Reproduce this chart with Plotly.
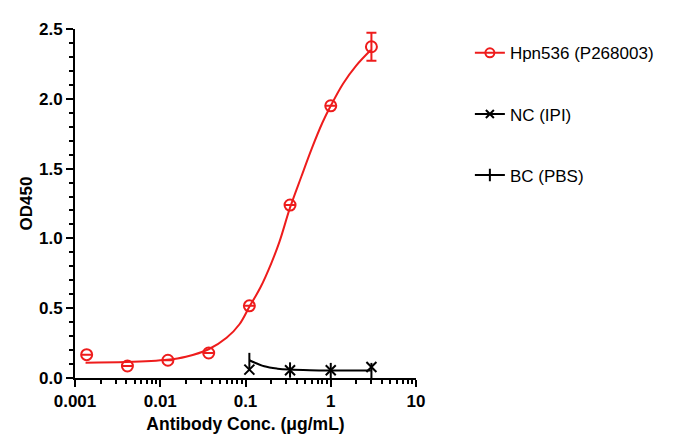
import plotly.graph_objects as go

# ===================== Data =====================
conc = [0.00137, 0.00412, 0.0123, 0.037, 0.111, 0.333, 1, 3]
hpn_od = [0.167, 0.086, 0.127, 0.179, 0.517, 1.239, 1.95, 2.373]
hpn_err = [0, 0, 0, 0, 0, 0, 0, 0.1]

# fitted curve of Hpn536
hpn_fit_x = [0.00133, 0.004, 0.012, 0.02, 0.037, 0.06, 0.085, 0.111, 0.15, 0.2,
             0.25, 0.333, 0.45, 0.6, 0.8, 1.0, 1.4, 2.0, 2.95]
hpn_fit_y = [0.110, 0.114, 0.130, 0.152, 0.206, 0.288, 0.385, 0.51, 0.65, 0.82,
             0.975, 1.22, 1.44, 1.645, 1.83, 1.95, 2.11, 2.24, 2.35]

nc_conc = [0.111, 0.333, 1, 3]
nc_od = [0.06, 0.055, 0.055, 0.079]

bc_conc = [0.111, 0.333, 1, 3]
bc_od = [0.125, 0.057, 0.053, 0.053]
bc_fit_x = [0.111, 0.166, 0.238, 0.329, 0.57, 0.98, 2.0, 2.95]
bc_fit_y = [0.127, 0.084, 0.067, 0.06, 0.055, 0.053, 0.053, 0.053]

red = '#ee1c1c'
font = 'Arial, Liberation Sans, sans-serif'

fig = go.Figure()

# ===================== Hpn536 =====================
fig.add_trace(go.Scatter(
    x=hpn_fit_x, y=hpn_fit_y, mode='lines', line=dict(color=red, width=2, shape='spline'),
    showlegend=False, hoverinfo='skip'
))
fig.add_trace(go.Scatter(
    x=conc, y=hpn_od, mode='markers', showlegend=False,
    marker=dict(symbol='circle-open', size=11, color=red, line=dict(width=2, color=red)),
    error_y=dict(type='data', array=hpn_err, color=red, thickness=2, width=5)
))
fig.add_trace(go.Scatter(
    x=[None], y=[None], mode='lines+markers', name='Hpn536 (P268003)', legendgroup='a',
    line=dict(color=red, width=2),
    marker=dict(symbol='circle-open', size=9, color=red, line=dict(width=2, color=red))
))

# ===================== BC (PBS) =====================
fig.add_trace(go.Scatter(
    x=bc_fit_x, y=bc_fit_y, mode='lines', line=dict(color='black', width=2, shape='spline'),
    showlegend=False, hoverinfo='skip'
))
fig.add_trace(go.Scatter(
    x=bc_conc, y=bc_od, mode='markers', showlegend=False,
    marker=dict(symbol='line-ns', size=11, color='black', line=dict(width=2, color='black'))
))

# ===================== NC (IPI) =====================
fig.add_trace(go.Scatter(
    x=nc_conc, y=nc_od, mode='markers', showlegend=False,
    marker=dict(symbol='x-thin', size=10, color='black', line=dict(width=2, color='black'))
))
fig.add_trace(go.Scatter(
    x=[None], y=[None], mode='lines+markers', name='NC (IPI)', legendgroup='b',
    line=dict(color='black', width=2),
    marker=dict(symbol='x-thin', size=8, color='black', line=dict(width=2, color='black'))
))
fig.add_trace(go.Scatter(
    x=[None], y=[None], mode='lines+markers', name='BC (PBS)', legendgroup='c',
    line=dict(color='black', width=2),
    marker=dict(symbol='line-ns', size=9, color='black', line=dict(width=2, color='black'))
))

# page body adds an 8px margin, so the figure is a bit smaller than the window
fig.update_layout(
    width=665, height=440,
    margin=dict(l=67, r=257, t=21, b=70),
    plot_bgcolor='white', paper_bgcolor='white',
    font=dict(family=font, color='black'),
    legend=dict(
        x=1.158, y=0.982, xanchor='left', yanchor='top',
        font=dict(size=17, family=font), tracegroupgap=36,
        itemwidth=30, bgcolor='rgba(0,0,0,0)'
    ),
    xaxis=dict(
        type='log', range=[-3, 1], automargin=False,
        tickvals=[0.001, 0.01, 0.1, 1, 10], ticktext=['0.001', '0.01', '0.1', '1', '10'],
        showgrid=False, zeroline=False, showline=True, linecolor='black', linewidth=2,
        ticks='outside', ticklen=7, tickwidth=2, tickcolor='black',
        tickfont=dict(size=17, family=font, weight='bold'),
        minor=dict(ticks='outside', ticklen=4, tickwidth=2, tickcolor='black', dtick='D1', showgrid=False),
        title=dict(text='Antibody Conc. (μg/mL)', font=dict(size=17.5, family=font, weight='bold'), standoff=7)
    ),
    yaxis=dict(
        range=[0, 2.5], dtick=0.5, tickformat='.1f', automargin=False,
        showgrid=False, zeroline=False, showline=True, linecolor='black', linewidth=2,
        ticks='outside', ticklen=7, tickwidth=2, tickcolor='black',
        tickfont=dict(size=17, family=font, weight='bold'),
        minor=dict(ticks='outside', ticklen=4, tickwidth=2, tickcolor='black', dtick=0.1, showgrid=False),
        title=dict(text='OD450', font=dict(size=17, family=font, weight='bold'), standoff=2)
    ),
)

fig.write_html("out.html")
